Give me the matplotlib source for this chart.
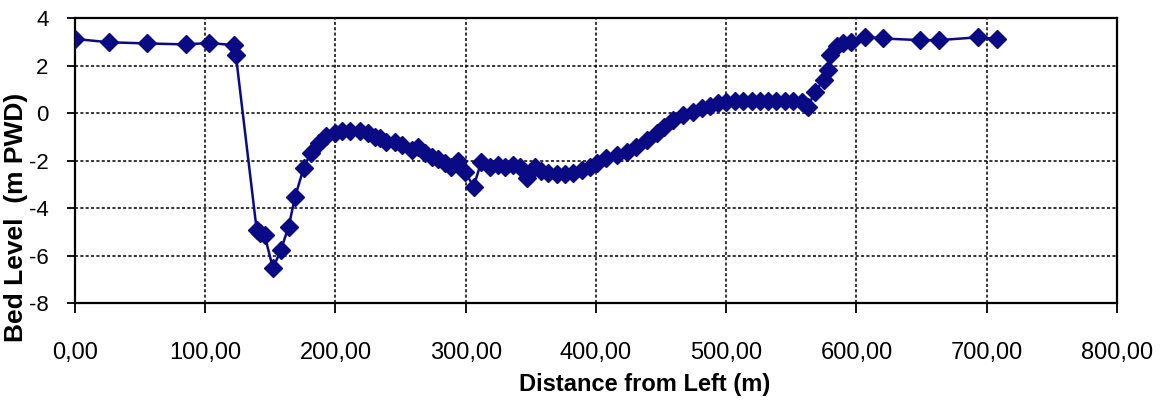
import matplotlib
matplotlib.use('Agg')
import matplotlib.pyplot as plt
from matplotlib.ticker import FuncFormatter, MultipleLocator

# bed level cross-section
distance = [0, 26, 55.5, 85, 103, 122, 123.5,
            139.5, 142, 145.5, 152, 158, 164, 169, 175.5, 181,
            187, 193, 199.5, 205, 211, 219, 225, 230, 234, 239,
            246, 251, 258.5, 263.5, 269, 274, 279, 284, 289, 294,
            299.5, 306, 312, 318.5, 325, 330, 336.5, 341.5, 347, 353,
            358, 363.5, 370, 376, 382.5, 389, 395.5, 401, 408, 416,
            423.5, 431, 439, 446.5, 452, 459.5, 467, 474.5, 481, 487.5,
            494, 500, 507, 513, 519.5, 526, 532, 538.5, 545, 551.5,
            558, 563, 568, 575, 578.5, 580, 585, 590, 596, 606.5,
            620, 649, 663.5, 693.5, 707.5]
bed_level = [3.12, 2.98, 2.93, 2.89, 2.95, 2.86, 2.44,
             -4.93, -5.07, -5.14, -6.54, -5.77, -4.79, -3.52, -2.33, -1.67,
             -1.28, -0.98, -0.84, -0.76, -0.77, -0.77, -0.86, -1.0, -1.07, -1.21,
             -1.23, -1.35, -1.56, -1.42, -1.7, -1.84, -1.95, -2.12, -2.26, -2.02,
             -2.47, -3.1, -2.05, -2.26, -2.19, -2.26, -2.19, -2.26, -2.75, -2.26,
             -2.43, -2.51, -2.57, -2.57, -2.51, -2.4, -2.26, -2.12, -1.91, -1.77,
             -1.63, -1.42, -1.14, -0.86, -0.58, -0.29, -0.08, 0.05, 0.2, 0.29,
             0.41, 0.48, 0.51, 0.51, 0.51, 0.51, 0.51, 0.51, 0.51, 0.51,
             0.48, 0.27, 0.9, 1.39, 1.81, 2.44, 2.84, 2.93, 2.98, 3.21,
             3.14, 3.07, 3.07, 3.19, 3.12]

plt.rcParams['font.family'] = ['Liberation Sans', 'DejaVu Sans']

fig = plt.figure(figsize=(11.61, 4.01), dpi=100)
ax = fig.add_axes([0.0646, 0.2444, 0.8975, 0.7106])

ax.plot(distance, bed_level, color='#0a0a84', lw=1.8, marker='D',
        markersize=9, markerfacecolor='#0a0a84', markeredgecolor='#0a0a84', zorder=3)

ax.set_xlim(0, 800)
ax.set_ylim(-8, 4)
ax.xaxis.set_major_locator(MultipleLocator(100))
ax.yaxis.set_major_locator(MultipleLocator(2))
ax.xaxis.set_major_formatter(FuncFormatter(lambda v, p: '{0:.2f}'.format(v).replace('.', ',')))
ax.yaxis.set_major_formatter(FuncFormatter(lambda v, p: '{0:d}'.format(int(round(v)))))

ax.grid(True, color='black', linestyle=(0, (2, 1.5)), linewidth=1.1)
for s in ax.spines.values():
    s.set_linewidth(1.6)
    s.set_color('black')

ax.tick_params(axis='x', direction='out', length=7, width=1.3, pad=21, labelsize=17)
ax.tick_params(axis='y', direction='out', length=6, width=1.3, pad=13, labelsize=16)

ax.set_xlabel('Distance from Left (m)', fontsize=17, fontweight='bold')
ax.xaxis.set_label_coords(0.547, -0.245)
ax.set_ylabel('Bed Level  (m PWD)', fontsize=19, fontweight='bold')
ax.yaxis.set_label_coords(-0.045, 0.3)

fig.savefig('out.png', dpi=100)
plt.close(fig)
